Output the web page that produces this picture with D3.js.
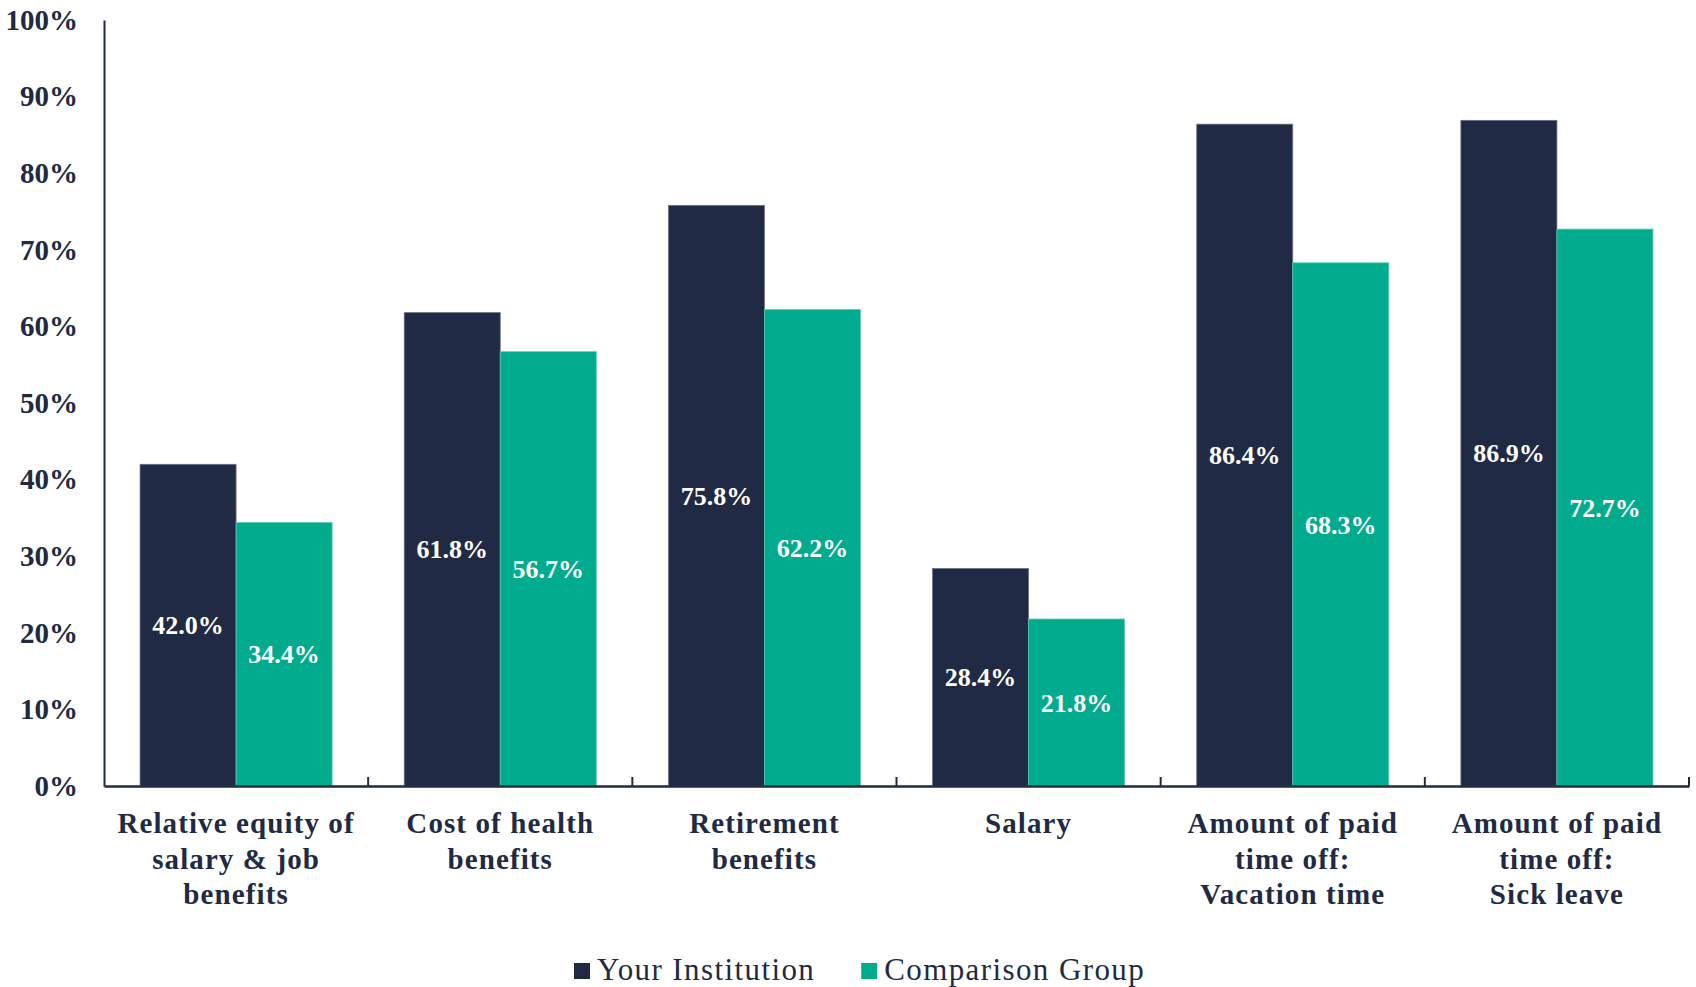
<!DOCTYPE html>
<html><head><meta charset="utf-8">
<script src="https://cdn.jsdelivr.net/npm/d3@7"></script>
<style>body{margin:0;background:#fff}svg{display:block}</style>
</head><body>
<svg id="c" width="1696" height="987"></svg>
<script>
const categories = [
  ["Relative equity of","salary & job","benefits"],
  ["Cost of health","benefits"],
  ["Retirement","benefits"],
  ["Salary"],
  ["Amount of paid","time off:","Vacation time"],
  ["Amount of paid","time off:","Sick leave"]
];
const seriesNames = ["Your Institution","Comparison Group"];
const yourInstitution = [42.0, 61.8, 75.8, 28.4, 86.4, 86.9];
const comparisonGroup = [34.4, 56.7, 62.2, 21.8, 68.3, 72.7];
const yTicks = [0,10,20,30,40,50,60,70,80,90,100];
const colors = ["#212a44","#00ab8e"];

(function(){
const svg = d3.select("#c");
const font = "'Liberation Serif','DejaVu Serif',serif";
const mLeft = 104, mRight = 1689, mTop = 20, mBottom = 786;
const x0 = d3.scaleBand().domain(d3.range(categories.length)).range([mLeft,mRight]).paddingInner(0.273).paddingOuter(0.1365);
const x1 = d3.scaleBand().domain([0,1]).range([0,x0.bandwidth()]);
const y = d3.scaleLinear().domain([0,100]).range([mBottom,mTop]);
const xb = d3.scaleBand().domain(d3.range(categories.length)).range([mLeft,mRight]);
const series = [yourInstitution, comparisonGroup];
const ink = "#212a44";

// bars
series.forEach((vals,si)=>{
  const g = svg.append("g");
  g.selectAll("rect").data(vals).join("rect")
    .attr("x",(d,i)=>x0(i)+x1(si)).attr("width",x1.bandwidth())
    .attr("y",d=>y(d)).attr("height",d=>y(0)-y(d))
    .attr("fill",colors[si])
    .attr("stroke", si===0 ? "#6b7388" : "#5fc9b5").attr("stroke-width",0.8);
  g.selectAll("text").data(vals).join("text")
    .attr("x",(d,i)=>x0(i)+x1(si)+x1.bandwidth()/2)
    .attr("y",d=>(y(d)+y(0))/2)
    .attr("dy","0.35em").attr("text-anchor","middle")
    .attr("fill","#fff").attr("font-family",font).attr("font-weight","bold")
    .attr("font-size",26).text(d=>d.toFixed(1)+"%");
});

// y axis
const ya = svg.append("g").attr("transform",`translate(${mLeft},0)`)
  .call(d3.axisLeft(y).tickValues(yTicks).tickSize(0).tickPadding(26).tickFormat(d=>d+"%"));
ya.select(".domain").attr("stroke",ink).attr("stroke-width",2);
ya.selectAll("text").attr("font-family",font).attr("font-weight","bold").attr("font-size",29).attr("fill",ink);

// x axis
const xa = svg.append("g").attr("transform",`translate(0,${mBottom})`)
  .call(d3.axisBottom(xb).tickSize(0).tickFormat(""));
xa.select(".domain").attr("stroke",ink).attr("stroke-width",2.5);
xa.selectAll(".tick").remove();
svg.append("g").selectAll("line").data(d3.range(1,categories.length+1)).join("line")
  .attr("x1",i=>mLeft+xb.step()*i).attr("x2",i=>mLeft+xb.step()*i)
  .attr("y1",mBottom).attr("y2",mBottom-9).attr("stroke",ink).attr("stroke-width",2);

// x labels
const lab = svg.append("g").selectAll("text").data(categories).join("text")
  .attr("x",(d,i)=>xb(i)+xb.bandwidth()/2).attr("y",833)
  .attr("text-anchor","middle").attr("font-family",font).attr("font-weight","bold")
  .attr("font-size",29).attr("letter-spacing",1.1).attr("fill",ink);
lab.each(function(lines){
  const t = d3.select(this);
  t.selectAll("tspan").data(lines).join("tspan")
    .attr("x",t.attr("x")).attr("dy",(d,j)=>j===0?0:35.6).text(d=>d);
});

// legend
const lg = svg.append("g");
let lx = 574;
seriesNames.forEach((n,i)=>{
  lg.append("rect").attr("x",lx).attr("y",963).attr("width",16).attr("height",16).attr("fill",colors[i]);
  const t = lg.append("text").attr("x",lx+23).attr("y",979.5).attr("font-family",font)
    .attr("font-size",31).attr("letter-spacing",1.4).attr("fill",ink).text(n);
  lx = lx + 23 + t.node().getComputedTextLength() + 46;
});
})();
</script>
</body></html>
